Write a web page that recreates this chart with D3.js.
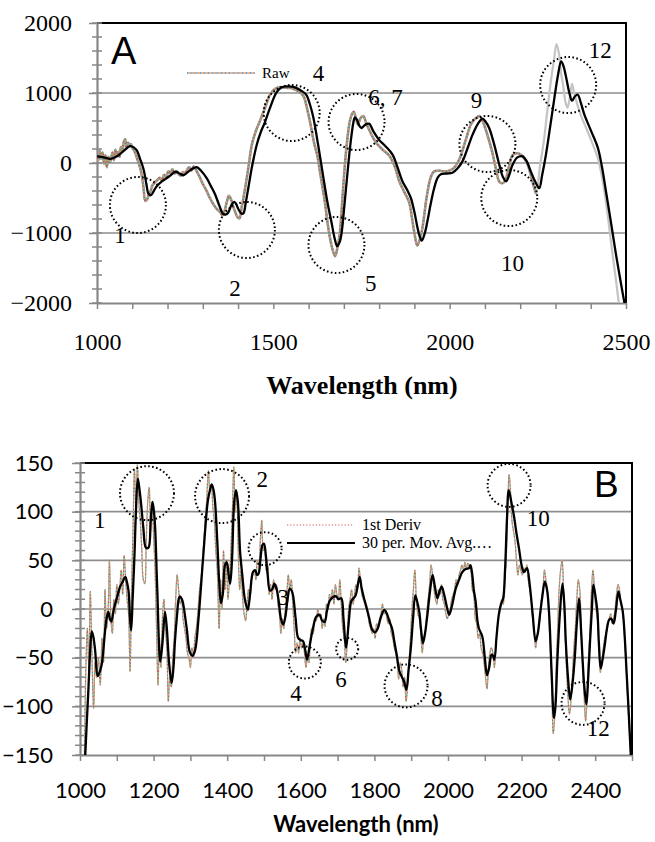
<!DOCTYPE html>
<html>
<head>
<meta charset="utf-8">
<script src="https://cdn.jsdelivr.net/npm/d3@7"></script>
<style>
body { margin: 0; background: #fff; }
svg { display: block; }
.fA text, text.fA { font-family: "Liberation Serif", "Times New Roman", serif; }
.fB text, text.fB { font-family: Lato, "Open Sans", sans-serif; }
</style>
</head>
<body>
<svg id="chart"></svg>
<script>
// ---- panel A data (wavelength nm, value) ----
const aTickLabelsX = [1000, 1500, 2000, 2500];
const aTickLabelsY = [-2000, -1000, 0, 1000, 2000];
const aGrid = [-1000, 0, 1000];

const rawA = [[1000,120],[1004,40],[1008,170],[1012,60],[1016,150],[1020,-10],[1024,110],[1028,-60],[1032,90],[1036,10],[1040,60],[1044,150],[1048,40],[1052,190],[1056,100],[1060,160],[1064,90],[1068,230],[1072,160],[1076,300],[1080,340],[1084,220],[1088,290],[1092,250],[1096,270],[1100,220],[1106,170],[1112,90],[1118,0],[1123,-80],[1128,-200],[1132,-360],[1137,-540],[1142,-520],[1147,-450],[1152,-400],[1157,-320],[1162,-290],[1167,-260],[1172,-240],[1178,-210],[1184,-250],[1190,-170],[1196,-200],[1202,-120],[1208,-140],[1214,-90],[1220,-150],[1226,-120],[1232,-160],[1238,-180],[1244,-130],[1250,-150],[1256,-90],[1262,-60],[1268,-110],[1274,-50],[1280,-90],[1286,-150],[1292,-210],[1300,-300],[1310,-390],[1320,-500],[1330,-590],[1340,-660],[1349,-700],[1356,-750],[1362,-680],[1368,-560],[1374,-470],[1380,-520],[1386,-620],[1392,-700],[1398,-770],[1404,-790],[1410,-640],[1420,-360],[1430,-40],[1439,260],[1450,450],[1462,600],[1476,780],[1491,980],[1505,1060],[1519,1085],[1535,1075],[1550,1070],[1565,1040],[1578,1000],[1587,940],[1596,770],[1604,590],[1615,300],[1625,100],[1632,-120],[1645,-520],[1656,-930],[1666,-1200],[1675,-1330],[1682,-1200],[1689,-980],[1696,-500],[1703,-20],[1710,350],[1717,600],[1723,700],[1728,730],[1734,640],[1740,550],[1747,640],[1755,670],[1764,560],[1774,450],[1790,300],[1810,190],[1828,110],[1845,-60],[1857,-260],[1872,-420],[1885,-560],[1893,-780],[1900,-1000],[1908,-1180],[1915,-1100],[1923,-920],[1935,-480],[1946,-210],[1956,-120],[1970,-110],[1985,-120],[1998,-110],[2012,-70],[2027,50],[2045,320],[2060,550],[2072,630],[2084,670],[2095,580],[2107,400],[2120,170],[2131,-80],[2140,-260],[2148,-290],[2158,-250],[2168,-50],[2178,110],[2190,140],[2202,120],[2212,60],[2221,-20],[2233,-230],[2245,-440],[2256,-50],[2268,350],[2278,800],[2287,1170],[2296,1480],[2303,1700],[2310,1560],[2316,1280],[2322,1100],[2328,880],[2334,790],[2341,940],[2347,1130],[2353,1000],[2363,820],[2375,640],[2387,500],[2400,340],[2420,70],[2432,-200],[2443,-550],[2452,-900],[2462,-1310],[2471,-1650],[2479,-1980],[2485,-2200]];

const smoothA = [[1000,95],[1020,80],[1038,60],[1057,95],[1075,170],[1094,240],[1105,220],[1113,180],[1122,60],[1132,-90],[1140,-300],[1146,-440],[1153,-460],[1162,-390],[1170,-330],[1185,-260],[1198,-215],[1210,-170],[1222,-125],[1234,-150],[1245,-175],[1260,-120],[1275,-70],[1283,-60],[1295,-110],[1311,-215],[1323,-330],[1335,-450],[1347,-610],[1358,-730],[1366,-735],[1373,-700],[1382,-590],[1389,-555],[1395,-590],[1401,-660],[1409,-720],[1415,-720],[1422,-560],[1429,-360],[1440,-40],[1453,260],[1465,450],[1476,580],[1490,780],[1509,1010],[1523,1080],[1538,1095],[1552,1090],[1566,1070],[1580,1030],[1594,970],[1603,850],[1613,660],[1627,260],[1641,-180],[1653,-550],[1665,-850],[1674,-1080],[1681,-1190],[1688,-1130],[1693,-1020],[1702,-580],[1712,-50],[1720,330],[1727,580],[1731,650],[1737,620],[1743,540],[1750,500],[1757,530],[1765,560],[1772,560],[1785,440],[1800,330],[1818,240],[1838,120],[1852,-60],[1866,-260],[1880,-390],[1890,-500],[1900,-700],[1909,-930],[1915,-1050],[1921,-1110],[1929,-1010],[1937,-830],[1946,-590],[1956,-360],[1966,-210],[1975,-160],[1992,-150],[2008,-140],[2022,-80],[2037,30],[2050,200],[2065,405],[2080,560],[2093,633],[2102,590],[2112,500],[2126,270],[2141,-30],[2151,-200],[2160,-262],[2169,-170],[2178,-30],[2192,80],[2207,95],[2219,20],[2230,-120],[2242,-260],[2254,-360],[2262,-180],[2273,120],[2285,520],[2297,930],[2307,1250],[2316,1450],[2323,1380],[2330,1230],[2339,1010],[2347,890],[2355,950],[2363,975],[2372,860],[2382,690],[2400,470],[2420,220],[2432,-60],[2443,-400],[2458,-870],[2472,-1320],[2485,-1700],[2495,-1980],[2500,-2100]];

const rawDotEndA = 2250;

// annotations A: circles and numbers (wavelength, value)
const circlesA = [[1116,-600],[1425,-957],[1552,714],[1679,-1171],[1736,586],[2107,271],[2169,-500],[2336,1114]];
const labelsA = [["1",1065,-1029],["2",1391,-1786],["4",1628,1286],["5",1776,-1714],["6, 7",1818,943],["9",2076,900],["10",2178,-1429],["12",2427,1614]];

// ---- panel B data ----
const bTickLabelsX = [1000, 1200, 1400, 1600, 1800, 2000, 2200, 2400];
const bTickLabelsY = [-150, -100, -50, 0, 50, 100, 150];
const bGrid = [-100, -50, 0, 50, 100];

const derivB = [[1012,-150],[1016,-60],[1020,-20],[1024,-60],[1028,18],[1032,-40],[1037,-102],[1041,-55],[1045,-70],[1050,-50],[1055,-78],[1060,-30],[1064,-55],[1068,20],[1072,-20],[1076,-5],[1080,50],[1084,-10],[1088,-25],[1092,10],[1096,-5],[1100,25],[1104,5],[1108,20],[1112,40],[1116,15],[1120,55],[1124,30],[1128,10],[1132,-5],[1136,-64],[1140,20],[1144,80],[1148,144],[1152,100],[1156,148],[1160,110],[1164,90],[1168,60],[1172,30],[1176,26],[1180,70],[1184,110],[1188,125],[1192,80],[1196,110],[1200,75],[1204,40],[1208,-20],[1212,-78],[1216,-30],[1220,-60],[1224,-10],[1228,10],[1232,-20],[1236,-40],[1240,-95],[1244,-70],[1248,-80],[1252,-50],[1256,-30],[1260,10],[1264,35],[1268,20],[1272,5],[1276,10],[1280,-10],[1284,-20],[1288,-30],[1292,-45],[1296,-50],[1300,-60],[1304,-40],[1308,-50],[1312,-30],[1316,-20],[1320,-5],[1325,20],[1330,35],[1335,60],[1340,90],[1344,110],[1349,142],[1353,120],[1357,128],[1361,105],[1365,90],[1369,60],[1373,40],[1378,-20],[1382,30],[1386,0],[1390,60],[1394,20],[1398,50],[1402,10],[1406,30],[1410,60],[1414,100],[1418,146],[1422,100],[1426,120],[1430,60],[1434,20],[1438,40],[1442,10],[1446,-5],[1450,-12],[1454,5],[1458,20],[1462,10],[1466,30],[1470,35],[1474,40],[1478,30],[1482,50],[1486,45],[1490,70],[1494,91],[1498,60],[1502,65],[1506,40],[1510,45],[1514,15],[1518,25],[1522,10],[1526,30],[1530,20],[1534,25],[1538,5],[1542,-5],[1546,-25],[1550,-10],[1554,-20],[1558,0],[1562,15],[1566,35],[1570,20],[1574,30],[1578,5],[1582,-20],[1586,-45],[1590,-35],[1594,-45],[1598,-30],[1602,-40],[1606,-35],[1610,-45],[1614,-60],[1618,-50],[1622,-55],[1626,-30],[1630,-20],[1634,-25],[1638,-10],[1642,-12],[1646,0],[1650,-8],[1654,-5],[1658,-20],[1662,-10],[1666,-18],[1670,5],[1674,0],[1678,15],[1682,10],[1686,20],[1690,5],[1694,25],[1698,15],[1702,10],[1706,30],[1710,5],[1714,-20],[1718,-30],[1722,-55],[1726,-35],[1730,0],[1734,10],[1738,20],[1742,5],[1746,15],[1750,25],[1754,20],[1758,42],[1762,30],[1766,15],[1770,10],[1774,5],[1778,0],[1782,-5],[1786,-15],[1790,-20],[1794,-25],[1798,-20],[1802,-30],[1806,-15],[1810,-20],[1814,-10],[1818,-5],[1822,5],[1826,-5],[1830,0],[1834,-10],[1838,-15],[1842,-10],[1846,-25],[1850,-30],[1854,-40],[1858,-45],[1862,-55],[1866,-72],[1870,-55],[1874,-62],[1878,-80],[1882,-70],[1886,-95],[1890,-80],[1894,-55],[1898,-30],[1902,0],[1906,20],[1910,40],[1914,10],[1918,-5],[1922,-10],[1926,-25],[1930,-45],[1934,-30],[1938,-25],[1942,-5],[1946,10],[1950,25],[1954,45],[1958,35],[1962,20],[1966,10],[1970,5],[1974,20],[1978,15],[1982,25],[1986,10],[1990,5],[1994,-5],[1998,-10],[2002,-5],[2006,0],[2010,10],[2014,15],[2018,20],[2022,30],[2026,25],[2030,35],[2034,40],[2038,45],[2042,40],[2046,48],[2050,42],[2054,47],[2058,44],[2062,40],[2066,20],[2070,15],[2074,-10],[2078,-15],[2082,-30],[2086,-25],[2090,-40],[2094,-45],[2098,-55],[2102,-70],[2106,-82],[2110,-60],[2114,-45],[2118,-40],[2122,-45],[2126,-60],[2130,-40],[2134,-20],[2138,-5],[2142,0],[2146,10],[2150,5],[2154,30],[2158,50],[2162,100],[2166,138],[2170,120],[2174,90],[2178,80],[2182,70],[2186,50],[2190,35],[2194,45],[2198,40],[2202,35],[2206,42],[2210,38],[2214,45],[2218,30],[2222,20],[2226,10],[2230,-10],[2234,-20],[2238,-40],[2242,-30],[2246,-20],[2250,-10],[2254,10],[2258,20],[2262,40],[2266,30],[2270,20],[2274,-10],[2278,-40],[2282,-80],[2286,-128],[2290,-110],[2294,-60],[2298,-20],[2302,20],[2306,40],[2310,50],[2314,20],[2318,-20],[2322,-60],[2326,-90],[2330,-108],[2334,-95],[2338,-70],[2342,-40],[2346,-20],[2350,10],[2354,30],[2358,20],[2362,-20],[2366,-60],[2370,-90],[2374,-115],[2378,-90],[2382,-50],[2386,-20],[2390,20],[2394,40],[2398,20],[2402,0],[2406,-10],[2410,-40],[2414,-65],[2418,-55],[2422,-40],[2426,-30],[2430,-25],[2434,-15],[2438,-10],[2442,-5],[2446,-15],[2450,-10],[2454,0],[2458,15],[2462,25],[2466,20],[2470,5],[2474,0],[2480,-30],[2488,-90],[2497,-155]];

const movAvgB = [[1014,-152],[1018,-120],[1023,-81],[1028,-40],[1032,-23],[1036,-28],[1041,-42],[1048,-69],[1054,-64],[1059,-57],[1064,-40],[1068,-23],[1073,-8],[1077,-3],[1081,-10],[1085,-13],[1092,0],[1100,11],[1109,23],[1116,28],[1123,33],[1128,27],[1132,18],[1136,-10],[1139,-22],[1143,10],[1148,55],[1152,100],[1157,134],[1161,125],[1166,108],[1172,84],[1179,63],[1186,63],[1192,90],[1197,110],[1201,100],[1204,85],[1210,20],[1218,-54],[1224,-35],[1231,-3],[1236,-20],[1242,-55],[1249,-76],[1254,-60],[1258,-33],[1264,-5],[1268,10],[1272,13],[1277,10],[1281,4],[1290,-20],[1299,-45],[1306,-48],[1313,-42],[1322,-10],[1335,55],[1347,110],[1353,122],[1358,128],[1363,122],[1367,110],[1373,70],[1378,30],[1383,6],[1388,15],[1394,45],[1399,48],[1404,35],[1408,26],[1413,50],[1419,110],[1424,122],[1429,110],[1435,59],[1441,35],[1448,10],[1456,-1],[1462,15],[1470,38],[1476,40],[1481,35],[1485,36],[1490,50],[1496,66],[1500,67],[1505,55],[1510,35],[1516,19],[1522,20],[1528,26],[1534,21],[1540,8],[1546,-10],[1552,-16],[1558,-8],[1564,10],[1570,21],[1575,19],[1579,14],[1586,-10],[1593,-30],[1600,-32],[1606,-33],[1612,-42],[1617,-52],[1624,-38],[1633,-20],[1642,-8],[1651,-6],[1658,-12],[1665,-13],[1671,-2],[1678,8],[1687,12],[1696,13],[1702,10],[1710,11],[1716,-10],[1723,-40],[1730,-15],[1737,8],[1743,11],[1749,14],[1755,25],[1760,33],[1765,22],[1771,12],[1777,4],[1785,-8],[1795,-22],[1802,-24],[1809,-20],[1818,-8],[1827,-1],[1834,-5],[1841,-13],[1848,-20],[1854,-33],[1861,-48],[1868,-64],[1875,-70],[1881,-75],[1887,-83],[1893,-62],[1899,-40],[1905,-10],[1911,14],[1916,8],[1922,-3],[1927,-22],[1932,-35],[1938,-24],[1944,-6],[1951,18],[1958,35],[1964,24],[1971,11],[1977,18],[1983,23],[1990,14],[1997,2],[2003,-6],[2010,2],[2021,21],[2030,30],[2039,38],[2048,41],[2057,42],[2061,45],[2066,35],[2070,20],[2075,8],[2080,-12],[2084,-20],[2093,-28],[2100,-50],[2106,-68],[2112,-60],[2118,-47],[2122,-48],[2126,-52],[2132,-28],[2138,-6],[2144,5],[2150,11],[2155,40],[2160,90],[2165,122],[2172,110],[2179,96],[2186,78],[2193,62],[2200,45],[2206,38],[2211,40],[2215,42],[2222,25],[2230,-5],[2238,-33],[2244,-25],[2250,-6],[2256,12],[2263,28],[2269,20],[2275,-6],[2281,-60],[2288,-112],[2292,-100],[2297,-54],[2304,-5],[2311,26],[2316,5],[2320,-33],[2326,-70],[2332,-93],[2338,-78],[2345,-47],[2350,-15],[2356,11],[2360,-10],[2365,-47],[2370,-78],[2376,-98],[2381,-70],[2386,-33],[2391,0],[2395,25],[2400,15],[2406,-3],[2410,-35],[2415,-61],[2420,-52],[2426,-37],[2432,-20],[2438,-11],[2444,-10],[2450,-15],[2456,-2],[2463,18],[2468,10],[2475,-3],[2486,-70],[2497,-152]];

// annotations B: circles (wavelength, value, radius px) and numbers
const circlesB = [[1182,119,27],[1386,116,27],[1503,62,16.5],[1611,-55,16],[1726,-41,11],[1886,-79,21.5],[2166,127,21.5],[2367,-97,21.5]];
const labelsB = [["1",1054,91],["2",1495,134],["3",1552,12],["4",1587,-86],["6",1709,-72],["8",1970,-91],["10",2245,94],["12",2408,-122]];

const dotColors = ["#4f81bd", "#f08a3a", "#a5a5a5", "#c0504d", "#9bbb59"];

// ---------------------------------------------------------------
const svg = d3.select("#chart").attr("width", 655).attr("height", 842);
const serif = "Liberation Serif";
const sans = "Liberation Sans";
const axisGrey = "#878787";

function drawFrame(g, x, y, o) {
  const [x0, x1] = x.range(), [y0, y1] = y.range(); // y0 bottom, y1 top

  g.append("g").selectAll("line").data(o.grid).join("line")
    .attr("x1", x0).attr("x2", x1)
    .attr("y1", d => y(d)).attr("y2", d => y(d))
    .attr("stroke", "#8e8e8e").attr("stroke-width", 1.6);

  // top / right border
  g.append("path")
    .attr("d", `M${x0},${y1}H${x1}V${y0}`)
    .attr("fill", "none").attr("stroke", "#000").attr("stroke-width", 2);

  // x axis
  const xa = g.append("g").attr("class", o.cls).attr("transform", `translate(0,${y0})`)
    .call(d3.axisBottom(x).tickValues(d3.range(1000, 2501, 100))
      .tickSize(6).tickSizeOuter(0).tickPadding(o.xPad)
      .tickFormat(d => o.xLabels.includes(d) ? d3.format("d")(d) : ""));
  xa.attr("font-size", o.fontSize);
  xa.select(".domain").attr("stroke", axisGrey).attr("stroke-width", 2);
  xa.selectAll(".tick line").attr("stroke", axisGrey).attr("stroke-width", 1.5);
  xa.selectAll("text").attr("fill", "#000");

  // y axis
  const ya = g.append("g").attr("class", o.cls).attr("transform", `translate(${x0},0)`)
    .call(d3.axisLeft(y).tickValues(o.yLabels).tickFormat(d3.format("d"))
      .tickSize(8).tickSizeOuter(0).tickPadding(o.yPad));
  ya.attr("font-size", o.fontSize);
  ya.select(".domain").attr("stroke", axisGrey).attr("stroke-width", 2.2);
  ya.selectAll(".tick line").attr("stroke", axisGrey).attr("stroke-width", 1.5);
  ya.selectAll("text").attr("fill", "#000");

  // minor y ticks
  g.append("g").selectAll("line").data(d3.range(y.domain()[0], y.domain()[1] + 1e-9, o.yMinor)).join("line")
    .attr("x1", x0 - 5).attr("x2", x0 + 5)
    .attr("y1", d => y(d)).attr("y2", d => y(d))
    .attr("stroke", axisGrey).attr("stroke-width", 1.5);

  g.append("text").attr("class", o.cls)
    .attr("x", o.titleX).attr("y", o.titleY)
    .attr("text-anchor", "middle")
    .attr("font-weight", "bold").attr("font-size", o.titleSize)
    .text("Wavelength (nm)");
}

function dottedSeries(g, line, data, width, under) {
  if (under) {
    g.append("path").datum(data).attr("d", line)
      .attr("fill", "none").attr("stroke", under.color).attr("stroke-width", under.width);
  }
  dotColors.forEach((c, i) => {
    g.append("path").datum(data).attr("d", line)
      .attr("fill", "none").attr("stroke", c).attr("stroke-width", width)
      .attr("stroke-dasharray", "1.4 5.6").attr("stroke-dashoffset", i * 1.4);
  });
}

function annotate(g, x, y, circles, labels, rDefault) {
  g.append("g").selectAll("circle").data(circles).join("circle")
    .attr("cx", d => x(d[0])).attr("cy", d => y(d[1]))
    .attr("r", d => d[2] || rDefault)
    .attr("fill", "none").attr("stroke", "#000").attr("stroke-width", 2)
    .attr("stroke-dasharray", "1.6 2.4");
  g.append("g").selectAll("text").data(labels).join("text")
    .attr("x", d => x(d[1])).attr("y", d => y(d[2]))
    .attr("dy", "0.35em").attr("text-anchor", "middle")
    .attr("font-family", serif).attr("font-size", 23)
    .text(d => d[0]);
}

// ---------------- Panel A ----------------
{
  const x = d3.scaleLinear().domain([1000, 2500]).range([97, 626]);
  const y = d3.scaleLinear().domain([-2000, 2000]).range([303, 23]);
  const g = svg.append("g");

  drawFrame(g, x, y, {
    cls: "fA", grid: aGrid, xLabels: aTickLabelsX, yLabels: aTickLabelsY, yMinor: 200,
    fontSize: 24, xPad: 24, yPad: 17,
    titleX: 362, titleY: 394, titleSize: 26
  });

  g.append("clipPath").attr("id", "clipA").append("rect")
    .attr("x", 97).attr("y", 23).attr("width", 529).attr("height", 280);
  const plot = g.append("g").attr("clip-path", "url(#clipA)");
  const line = d3.line().x(d => x(d[0])).y(d => y(d[1])).curve(d3.curveCatmullRom.alpha(0.5));

  // light grey spectrum under the raw dots
  plot.append("path").datum(rawA).attr("d", line)
    .attr("fill", "none").attr("stroke", "#c4c4c4").attr("stroke-width", 2.2);
  dottedSeries(plot, line, rawA.filter(d => d[0] <= rawDotEndA), 1.6, { color: "#9a9a9a", width: 2.6 });

  plot.append("path").datum(smoothA).attr("d", line)
    .attr("fill", "none").attr("stroke", "#000").attr("stroke-width", 2.3);

  annotate(g, x, y, circlesA, labelsA, 28);

  g.append("text").attr("x", 111).attr("y", 64)
    .attr("font-family", sans).attr("font-size", 38).text("A");

  // legend
  const lg = g.append("g");
  dotColors.slice(0, 3).forEach((c, i) => {
    lg.append("line").attr("x1", 187).attr("x2", 255).attr("y1", 73).attr("y2", 73)
      .attr("stroke", c).attr("stroke-width", 1.4)
      .attr("stroke-dasharray", "1.4 2.8").attr("stroke-dashoffset", i * 1.4);
  });
  lg.append("text").attr("x", 262).attr("y", 78)
    .attr("font-family", serif).attr("font-size", 15).text("Raw");
}

// ---------------- Panel B ----------------
{
  const x = d3.scaleLinear().domain([1000, 2500]).range([80, 632]);
  const y = d3.scaleLinear().domain([-150, 150]).range([755, 463]);
  const g = svg.append("g");

  drawFrame(g, x, y, {
    cls: "fB", grid: bGrid, xLabels: bTickLabelsX, yLabels: bTickLabelsY, yMinor: 10,
    fontSize: 22, xPad: 21, yPad: 19,
    titleX: 356, titleY: 832, titleSize: 22
  });

  g.append("clipPath").attr("id", "clipB").append("rect")
    .attr("x", 80).attr("y", 463).attr("width", 552).attr("height", 292);
  const plot = g.append("g").attr("clip-path", "url(#clipB)");
  const line = d3.line().x(d => x(d[0])).y(d => y(d[1])).curve(d3.curveCatmullRom.alpha(0.5));

  dottedSeries(plot, line, derivB, 1.2, { color: "#d6d6d6", width: 1.2 });
  plot.append("path").datum(movAvgB).attr("d", line)
    .attr("fill", "none").attr("stroke", "#000").attr("stroke-width", 2.3);

  annotate(g, x, y, circlesB, labelsB, 20);

  g.append("text").attr("x", 594).attr("y", 497)
    .attr("font-family", sans).attr("font-size", 37).text("B");

  // legend
  g.append("line").attr("x1", 287).attr("x2", 353).attr("y1", 525).attr("y2", 525)
    .attr("stroke", "#d9534f").attr("stroke-width", 1.2).attr("stroke-dasharray", "1.2 2");
  g.append("text").attr("x", 362).attr("y", 530)
    .attr("font-family", serif).attr("font-size", 16).text("1st Deriv");
  g.append("line").attr("x1", 287).attr("x2", 355).attr("y1", 543).attr("y2", 543)
    .attr("stroke", "#000").attr("stroke-width", 2.2);
  g.append("text").attr("x", 362).attr("y", 548)
    .attr("font-family", serif).attr("font-size", 16).text("30 per. Mov. Avg.…");
}
</script>
</body>
</html>
